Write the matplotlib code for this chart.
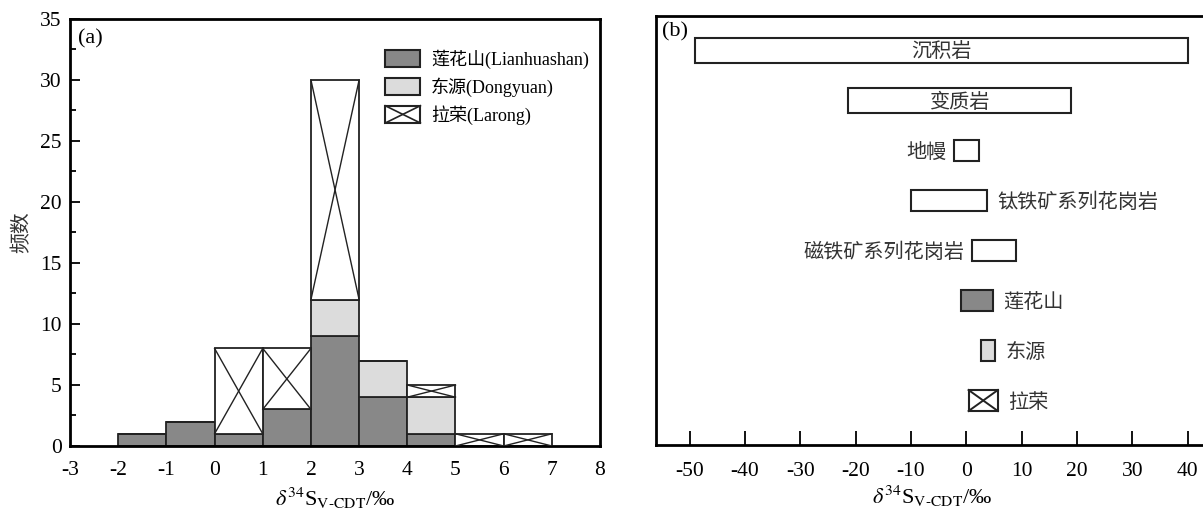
import matplotlib.pyplot as plt
from matplotlib.patches import Rectangle
from matplotlib.legend_handler import HandlerPatch
from matplotlib.lines import Line2D
from matplotlib.ticker import MultipleLocator

plt.rcParams['font.family'] = ['Liberation Serif', 'Noto Sans CJK SC']
plt.rcParams['mathtext.fontset'] = 'stix'
plt.rcParams['axes.unicode_minus'] = False

# ---- panel (a): histogram data (bin width 1 permil) ----
bin_left = [-2, -1, 0, 1, 2, 3, 4, 5, 6]
lianhuashan = [1, 2, 1, 3, 9, 4, 1, 0, 0]
dongyuan = [0, 0, 0, 0, 3, 3, 3, 0, 0]
larong = [0, 0, 7, 5, 18, 0, 1, 1, 1]

# ---- panel (b): ranges of delta34S ----
range_names = ['沉积岩', '变质岩', '地幔', '钛铁矿系列花岗岩', '磁铁矿系列花岗岩',
               '莲花山', '东源', '拉荣']
range_lo = [-49, -21.4, -2.3, -10, 1, -1, 2.6, 0.4]
range_hi = [40, 19, 2.3, 3.8, 8.9, 4.8, 5.2, 5.7]
range_label_pos = ['in', 'in', 'left', 'right', 'left', 'right', 'right', 'right']
range_fill = ['white', 'white', 'white', 'white', 'white', '#888888', '#dcdcdc', 'white']
range_cross = [False, False, False, False, False, False, False, True]

DARK = '#888888'
LIGHT = '#dcdcdc'
EC = '#222222'
XLABEL = r'$\delta^{34}$S$_{\rm V\text{-}CDT}$/‰'


class CrossHandler(HandlerPatch):
    def create_artists(self, legend, orig_handle, xdescent, ydescent,
                       width, height, fontsize, trans):
        x0, y0 = -xdescent, -ydescent
        r = Rectangle((x0, y0), width, height, facecolor='white',
                      edgecolor=EC, lw=1.5, transform=trans)
        l1 = Line2D([x0, x0 + width], [y0, y0 + height], color=EC, lw=1.2, transform=trans)
        l2 = Line2D([x0, x0 + width], [y0 + height, y0], color=EC, lw=1.2, transform=trans)
        return [r, l1, l2]


def draw_cross(ax, x0, x1, y0, y1, lw=1.0):
    ax.plot([x0, x1], [y0, y1], color=EC, lw=lw, zorder=3)
    ax.plot([x0, x1], [y1, y0], color=EC, lw=lw, zorder=3)


fig = plt.figure(figsize=(12.03, 5.09), dpi=100)

# ================= (a) =================
ax1 = fig.add_axes([0.0582, 0.1238, 0.4406, 0.8389])
bottom2 = [a for a in lianhuashan]
bottom3 = [a + b for a, b in zip(lianhuashan, dongyuan)]
ax1.bar(bin_left, lianhuashan, width=1, align='edge', color=DARK, edgecolor=EC, lw=1.3, zorder=2)
ax1.bar(bin_left, dongyuan, width=1, bottom=bottom2, align='edge', color=LIGHT,
        edgecolor=EC, lw=1.3, zorder=2)
ax1.bar(bin_left, larong, width=1, bottom=bottom3, align='edge', color='white',
        edgecolor=EC, lw=1.3, zorder=2)
for x, b, h in zip(bin_left, bottom3, larong):
    if h > 0:
        draw_cross(ax1, x, x + 1, b, b + h)

ax1.set_xlim(-3, 8)
ax1.set_ylim(0, 35)
ax1.set_xticks(list(range(-3, 9)))
ax1.yaxis.set_major_locator(MultipleLocator(5))
ax1.yaxis.set_minor_locator(MultipleLocator(2.5))
ax1.tick_params(axis='x', length=0, pad=11, labelsize=15.5)
ax1.tick_params(axis='y', which='major', direction='in', length=7, width=1.3, labelsize=15.5, pad=6)
ax1.tick_params(axis='y', which='minor', direction='in', length=4, width=1.3)
for s in ax1.spines.values():
    s.set_linewidth(2)
ax1.set_ylabel('频数', fontsize=15, color='#333333')
ax1.yaxis.set_label_coords(-0.07, 0.5)
ax1.set_xlabel(XLABEL, fontsize=16, labelpad=4)
ax1.text(0.015, 0.975, '(a)', transform=ax1.transAxes, fontsize=16, va='top', ha='left')

h1 = Rectangle((0, 0), 1, 1, facecolor=DARK, edgecolor=EC, lw=1.5)
h2 = Rectangle((0, 0), 1, 1, facecolor=LIGHT, edgecolor=EC, lw=1.5)
h3 = Rectangle((0, 0), 1, 1, facecolor='white', edgecolor=EC, lw=1.5)
ax1.legend([h1, h2, h3], ['莲花山(Lianhuashan)', '东源(Dongyuan)', '拉荣(Larong)'],
           handler_map={h3: CrossHandler()}, loc='upper left', bbox_to_anchor=(0.581, 0.945),
           frameon=False, fontsize=13, handlelength=1.95, handleheight=1.1,
           labelspacing=0.45, handletextpad=0.6, borderaxespad=0)

# ================= (b) =================
ax2 = fig.add_axes([0.5453, 0.1257, 0.4594, 0.8429])
heights = [0.5, 0.5, 0.42, 0.42, 0.42, 0.42, 0.42, 0.42]
ypos = list(range(len(range_names)))
for i, (name, lo, hi) in enumerate(zip(range_names, range_lo, range_hi)):
    ax2.barh(ypos[i], hi - lo, left=lo, height=heights[i], color=range_fill[i],
             edgecolor=EC, lw=1.5, zorder=2)
    if range_cross[i]:
        draw_cross(ax2, lo, hi, ypos[i] - heights[i] / 2, ypos[i] + heights[i] / 2, lw=1.4)
    pos = range_label_pos[i]
    kw = dict(va='center_baseline', fontsize=14.5, color='#333333')
    if pos == 'in':
        ax2.text((lo + hi) / 2, ypos[i], name, ha='center', **kw)
    elif pos == 'left':
        ax2.text(lo - 1.3, ypos[i], name, ha='right', **kw)
    else:
        ax2.text(hi + 1.8, ypos[i], name, ha='left', **kw)

ax2.set_xlim(-56.1, 43.8)
ax2.set_ylim(7.89, -0.69)
ax2.set_yticks([])
ax2.set_xticks(list(range(-50, 50, 10)))
ax2.tick_params(axis='x', direction='in', length=10, width=1.3, labelsize=15.5, pad=12)
for s in ax2.spines.values():
    s.set_linewidth(2)
ax2.set_xlabel(XLABEL, fontsize=16, labelpad=2)
ax2.text(0.01, 0.985, '(b)', transform=ax2.transAxes, fontsize=16, va='top', ha='left')

fig.savefig('out.png', dpi=100)
